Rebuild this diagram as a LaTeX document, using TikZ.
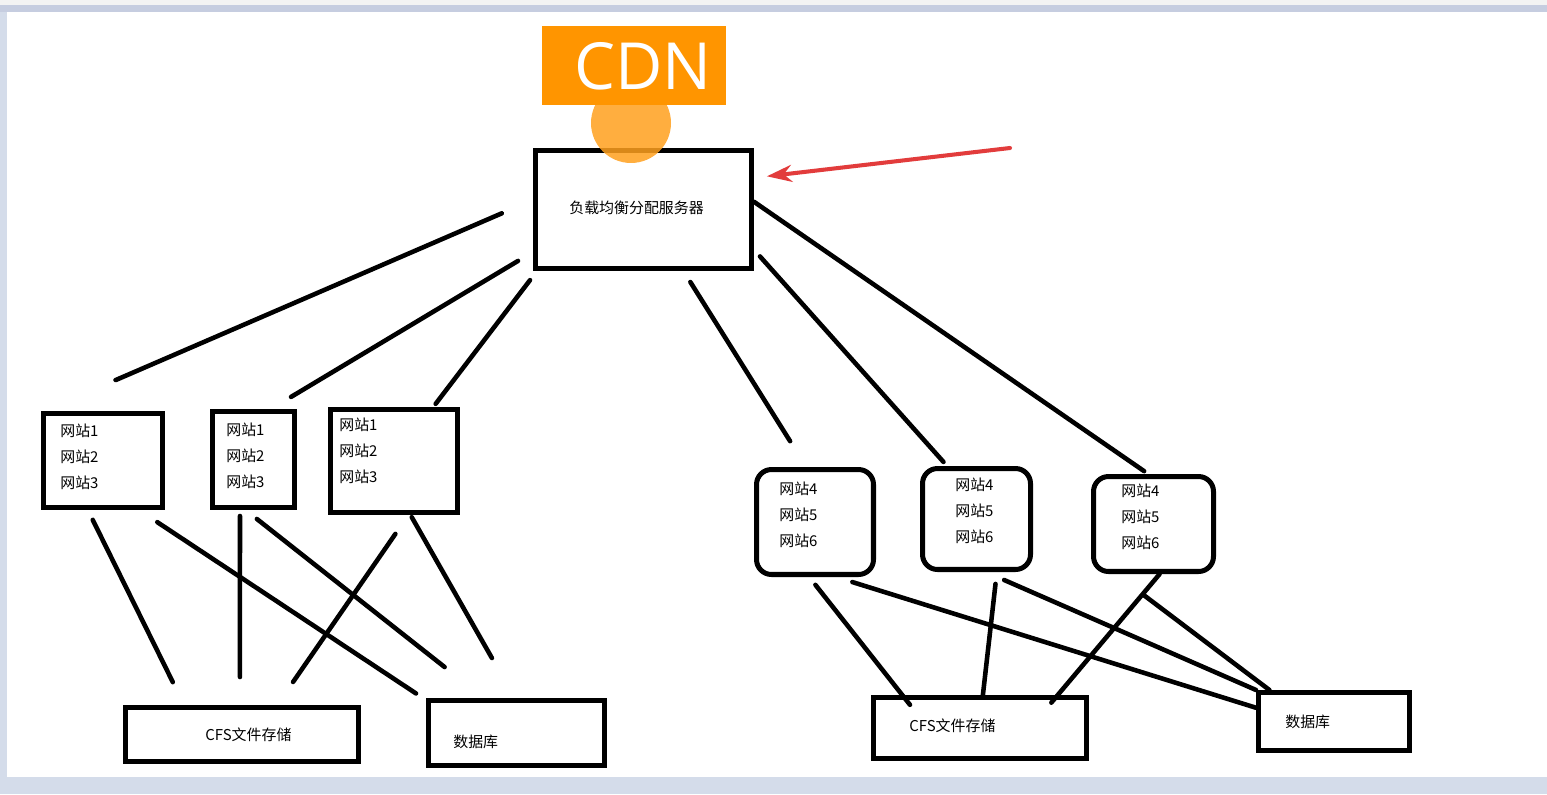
\documentclass[tikz,border=0pt]{standalone}
\usepackage{fontspec}
\newfontfamily\cjk{Noto Sans CJK SC}
\newfontfamily\cdnfont{Open Sans}
\usetikzlibrary{arrows.meta}

\definecolor{winframe}{RGB}{212,220,234}
\definecolor{winband}{RGB}{198,205,224}
\definecolor{topbar}{RGB}{243,243,243}
\definecolor{cdnorange}{RGB}{255,149,0}
\definecolor{glowcol}{RGB}{255,160,30}
\definecolor{arrowred}{RGB}{226,60,60}

\tikzset{
  box/.style={draw, line width=2.85pt, inner sep=0pt},
  roundbox/.style={box, rounded corners=0.3cm},
  link/.style={line width=2.6pt, line cap=round},
  txt/.style={font=\cjk\fontsize{8.5pt}{14.8pt}\selectfont, anchor=west, align=left, inner sep=0pt},
}

\begin{document}
\begin{tikzpicture}[x=0.02cm, y=-0.02cm]
\useasboundingbox (0,0) rectangle (1547,794);
% window
\fill[winframe] (0,0) rectangle (1547,794);
\fill[topbar] (0,0) rectangle (1547,5);
\fill[winband] (0,5) rectangle (1547,12);
\fill[white] (7,12) rectangle (1547,777);

% load balancer and CDN
\node[box, minimum width=4.32cm, minimum height=2.36cm] (lb) at (643.5,209.5) {};
\node[circle, fill=glowcol, opacity=0.85, minimum size=1.6cm, inner sep=0pt] (glow) at (631,123) {};
\node[fill=cdnorange, minimum width=3.68cm, minimum height=1.58cm, inner sep=0pt] (cdn) at (634,65.5) {};
\node[font=\cdnfont\fontsize{37pt}{37pt}\selectfont, text=white, inner sep=0pt] (cdntext) at (643,66.5) {CDN};
\node[txt] (lbtext) at (569,208) {负载均衡分配服务器};

% web server groups
\node[box, minimum width=2.38cm, minimum height=1.88cm] (web1) at (103,460.5) {};
\node[box, minimum width=1.64cm, minimum height=1.92cm] (web2) at (253.5,459.5) {};
\node[box, minimum width=2.54cm, minimum height=2.06cm] (web3) at (394,461) {};
\node[roundbox, minimum width=2.34cm, minimum height=2.10cm] (web4) at (815,522) {};
\node[roundbox, minimum width=2.16cm, minimum height=2.02cm] (web5) at (976.5,519) {};
\node[roundbox, minimum width=2.40cm, minimum height=1.90cm] (web6) at (1153.5,524) {};
\node[txt] (sites1) at (60,457) {网站1\\网站2\\网站3};
\node[txt] (sites2) at (226,456) {网站1\\网站2\\网站3};
\node[txt] (sites3) at (339,450.5) {网站1\\网站2\\网站3};
\node[txt] (sites4) at (779,515) {网站4\\网站5\\网站6};
\node[txt] (sites5) at (955,511) {网站4\\网站5\\网站6};
\node[txt] (sites6) at (1121,517) {网站4\\网站5\\网站6};

% storage
\node[box, minimum width=4.66cm, minimum height=1.08cm] (cfsL) at (242,734.5) {};
\node[box, minimum width=3.52cm, minimum height=1.30cm] (dbL) at (516.5,733) {};
\node[box, minimum width=4.26cm, minimum height=1.22cm] (cfsR) at (980,728) {};
\node[box, minimum width=3.02cm, minimum height=1.16cm] (dbR) at (1334,721.5) {};
\node[txt] (cfsLtext) at (205,735) {CFS文件存储};
\node[txt] (dbLtext) at (453,742) {数据库};
\node[txt] (cfsRtext) at (909,726) {CFS文件存储};
\node[txt] (dbRtext) at (1285,722) {数据库};

% links from the balancer
\draw[link, shorten <=0.68cm, shorten >=1.56cm] (lb.175) -- (web1.140);
\draw[link, shorten <=0.35cm, shorten >=0.47cm] (lb.201) -- (web2.71);
\draw[link, shorten <=0.23cm, shorten >=0.08cm] (lb.210) -- (web3.54);
\draw[link, shorten <=0.26cm, shorten >=0.61cm] (lb.303) -- (web4.99);
\draw[link, shorten <=0.18cm, shorten >=0.11cm] (lb.340) -- (web5.119);
\draw[link, shorten >=0.1cm] (lb.4) -- (web6.96);

% links to storage
\draw[link, shorten <=0.22cm, shorten >=0.51cm] (web1.253) -- (cfsL.153);
\draw[link, shorten <=0.44cm, shorten >=0.24cm] (web1.306) -- (dbL.160);
\draw[link, shorten <=0.12cm, shorten >=0.56cm] (web2.255) -- (cfsL.94);
\draw[link, shorten <=0.29cm, shorten >=1.0cm] (web2.261) -- (dbL.133);
\draw[link, shorten <=0.46cm, shorten >=0.56cm] (web3.285) -- (cfsL.40);
\draw[link, shorten <=0.05cm, shorten >=0.92cm] (web3.287) -- (dbL.93);
\draw[link, shorten <=0.2cm, shorten >=-0.25cm] (web4.264) -- (cfsR.157);
\draw[link, shorten <=0.34cm] (web4.291) -- (dbR.170);
\draw[link, shorten <=0.24cm] (web5.291) -- (cfsR.85);
\draw[link, shorten <=0.4cm] (web5.280) -- (dbR.north west);
\draw[link, shorten >=-0.2cm] (web6.277) -- (cfsR.23);
\draw[link, shorten <=0.7cm] (web6.233) -- (dbR.154);

% red pointer
\coordinate (note) at (1010,148);
\draw[line width=2.3pt, line cap=round, arrowred, -{Stealth[length=0.5cm, width=0.34cm]}, shorten >=0.26cm] (note) -- (lb.16);
\end{tikzpicture}
\end{document}
